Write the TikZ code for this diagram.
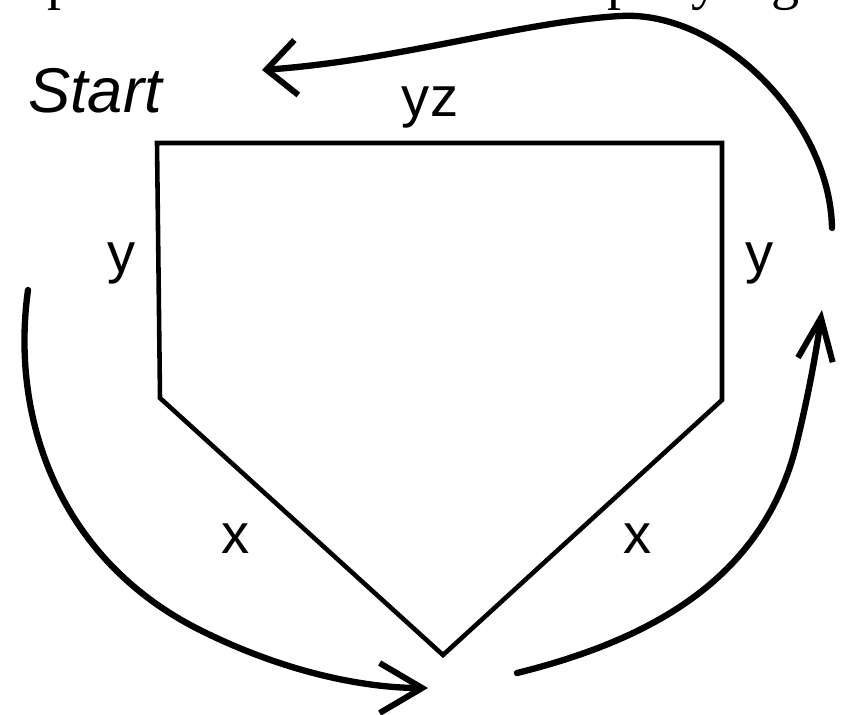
\documentclass[tikz,border=0pt]{standalone}
\usepackage{fontspec}
\setmainfont{Liberation Sans}
\newfontfamily\cutfont{Liberation Serif}
\usetikzlibrary{arrows.meta}

\begin{document}
\begin{tikzpicture}[
  x=0.02cm, y=-0.02cm,
  plate/.style={draw=black, line width=2.6pt, line join=miter},
  lbl/.style={font=\fontsize{32}{36}\selectfont, anchor=base, inner sep=0pt},
  cut/.style={font=\cutfont\fontsize{32}{36}\selectfont, anchor=base, inner sep=0pt},
  hand/.style={font=\itshape\fontsize{36}{40}\selectfont, anchor=base, inner sep=0pt},
  scrawl/.style={draw=black, line width=3.6pt, line cap=round, line join=round},
  barb/.style 2 args={-{Straight Barb[length=#1, width=#2, line width=3.4pt]}},
]
\useasboundingbox (0,0) rectangle (841,714);
\fill[white] (0,0) rectangle (841,714);
\clip (0,0) rectangle (841,714);

% line of text above, cut off at the top
\node[cut] (p1) at (62,-2) {p};
\node[cut] (p2) at (622,-2) {p};
\node[cut] (y0) at (706,-2) {y};
\node[cut] (g0) at (786,-2) {g};

% home plate
\coordinate (tl) at (157,143);
\coordinate (tr) at (722,143);
\coordinate (br) at (722,400);
\coordinate (bot) at (443,655);
\coordinate (bl) at (160,398);
\draw[plate] (tl) -- (tr) -- (br) -- (bot) -- (bl) -- cycle;

\node[lbl] (top) at (430,116) {yz};
\node[lbl] (ly) at (122,272) {y};
\node[lbl] (ry) at (760,272) {y};
\node[lbl] (lx) at (236,553) {x};
\node[lbl] (rx) at (638,553) {x};

\node[hand] (start) at (95,112) {Start};

% hand drawn arrows
\coordinate (a1) at (832,228);
\coordinate (a2) at (620,16);
\coordinate (a3) at (262,70);
\coordinate (b1) at (28,290);
\coordinate (b2) at (200,630);
\coordinate (b3) at (428,688);
\coordinate (c1) at (517,673);
\coordinate (c2) at (795,450);
\coordinate (c3) at (822,310);
\draw[scrawl, barb={0.6cm}{1.1cm}] (a1) .. controls (830,120) and (720,10) .. (a2)
  .. controls (520,22) and (400,60) .. (a3);
\draw[scrawl, barb={0.85cm}{1.0cm}] (b1) .. controls (10,420) and (60,560) .. (b2)
  .. controls (290,675) and (370,688) .. (b3);
\draw[scrawl, barb={0.85cm}{0.7cm}] (c1) .. controls (650,640) and (760,580) .. (c2)
  .. controls (810,390) and (818,340) .. (c3);
\end{tikzpicture}
\end{document}
